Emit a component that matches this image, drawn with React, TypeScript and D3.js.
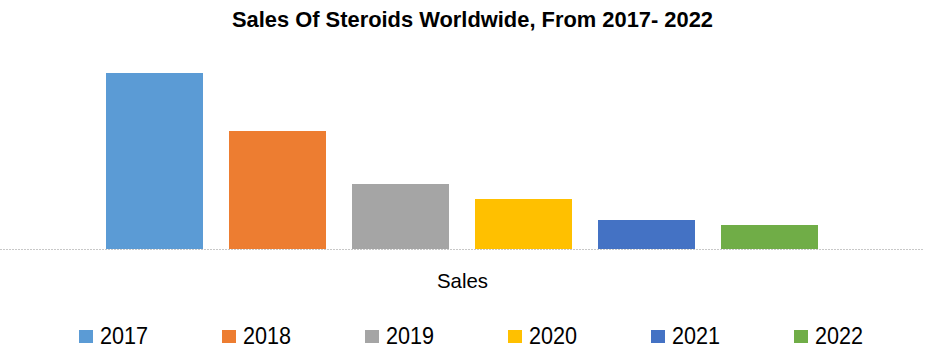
import React from "react";
import * as d3 from "d3";

const categories = ["2017", "2018", "2019", "2020", "2021", "2022"];
const salesValues = [176, 118, 65, 50, 29, 24];
const colors = ["#5B9BD5", "#ED7D31", "#A5A5A5", "#FFC000", "#4472C4", "#70AD47"];
const titleText = "Sales Of Steroids Worldwide, From 2017- 2022";
const axisLabel = "Sales";

const W = 930;
const H = 358;

export default function App() {
  const x = d3.scaleBand<string>().domain(categories).range([93, 831]).paddingInner(0.2114).paddingOuter(0.1057);
  const y = d3.scaleLinear().domain([0, 200]).range([249, 49]);
  const legendX = d3.scaleBand<string>().domain(categories).range([79, 79 + 143 * 6]);

  return (
    <svg width={W} height={H} style={{ position: "absolute", left: 0, top: 0, background: "#fff" }}
      fontFamily="'Liberation Sans', Arial, sans-serif">
      <text x={472.5} y={27} textAnchor="middle" fontSize={22} fontWeight="bold" fill="#000"
        textLength={481} lengthAdjust="spacingAndGlyphs">{titleText}</text>
      {categories.map((c, i) => (
        <rect key={c} x={x(c)} y={y(salesValues[i])} width={x.bandwidth()} height={y(0) - y(salesValues[i])} fill={colors[i]} />
      ))}
      <line x1={0} x2={924} y1={y(0) + 0.5} y2={y(0) + 0.5} stroke="#c8c8c8" strokeWidth={1} strokeDasharray="2,1" />
      <text x={462.5} y={288} textAnchor="middle" fontSize={21} fill="#000" textLength={51} lengthAdjust="spacingAndGlyphs">{axisLabel}</text>
      {categories.map((c, i) => (
        <g key={c} transform={`translate(${legendX(c)},0)`}>
          <rect x={0} y={330} width={14} height={13} fill={colors[i]} />
          <text x={21} y={344} fontSize={23} fill="#000" textLength={48} lengthAdjust="spacingAndGlyphs">{c}</text>
        </g>
      ))}
    </svg>
  );
}
